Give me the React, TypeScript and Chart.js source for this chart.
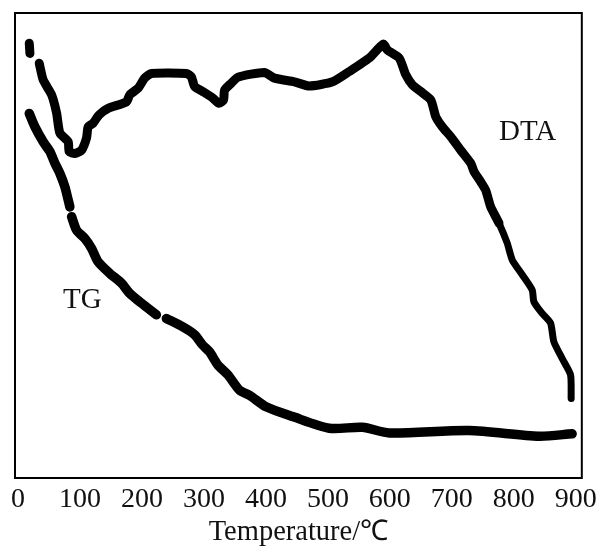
import React, { useEffect, useRef } from "react";
import { Chart, registerables } from "chart.js";

Chart.register(...registerables);

// Temperature (°C) / relative signal (0-100, arbitrary units)
const DTA_X: (number)[] = [18.2, 19.3, 25, 34.3, 40.7, 54.3, 62.3, 67.6, 81.0, 82.6, 91.8, 102.6, 110.6, 113.2, 121.2, 130.9, 145.4, 175.0, 180.3, 193.7, 204.5, 215.3, 271.6, 279.7, 285.0, 298.3, 314.4, 324.1, 331.7, 333.3, 344.1, 354.7, 397.7, 413.8, 446.0, 470.1, 507.6, 534.5, 566.7, 589.3, 596.2, 615.1, 625.8, 636.5, 650.0, 666.1, 674.1, 684.8, 698.3, 714.4, 730.5, 735.8, 746.6, 754.6, 762.7, 776.1, 789.4, 797.5, 813.6, 829.7, 832.4, 845.8, 859.3, 864.6, 878.0, 891.5, 892.5];
const DTA_Y: (number | null)[] = [93.5, 91.3, null, 89.2, 85.6, 82.4, 78.5, 74.2, 72.3, 70.2, 69.8, 70.5, 73.1, 75.5, 76.3, 78.1, 79.5, 80.9, 82.4, 83.8, 86.0, 87.0, 87.0, 86.3, 84.2, 83.1, 81.7, 80.6, 81.3, 83.4, 84.9, 86.2, 87.2, 86.0, 85.2, 84.3, 85.2, 87.4, 90.3, 93.3, 92.0, 90.3, 86.7, 84.5, 83.1, 81.3, 77.7, 75.5, 73.4, 70.5, 67.7, 65.9, 63.7, 61.9, 58.3, 54.8, 50.5, 46.9, 43.7, 40.4, 37.9, 35.4, 33.3, 29.3, 25.7, 22.2, 17.1];

const TG_X: number[] = [18.2, 27.4, 40.7, 51.5, 59.6, 67.6, 75.7, 81.0, 83.7, 85, 86.5, 94.5, 107.9, 118.7, 129.3, 148.1, 167.0, 180.3, 199.2, 223.3, 230, 239.4, 266.1, 285.0, 297.9, 309.1, 322.5, 338.6, 357.4, 373.5, 400.4, 443.3, 502.3, 555.9, 598.9, 727.7, 840.4, 894.1];
const TG_Y: (number | null)[] = [78.4, 75.5, 72.3, 70.2, 67.7, 65.5, 62.6, 59.8, 58.3, null, 56.2, 53.3, 51.5, 49.4, 46.5, 44.0, 41.9, 39.7, 37.6, 35.1, null, 34.3, 32.5, 30.8, 28.6, 27.1, 24.3, 22.2, 18.9, 17.8, 15.3, 13.2, 10.7, 10.9, 9.7, 10.2, 9.0, 9.5];

const X_TICKS: number[] = [0, 100, 200, 300, 400, 500, 600, 700, 800, 900];
const X_TITLE = "Temperature/℃";
const SERIES_LABELS = ["DTA", "TG"];

const FONT = "'Liberation Serif', 'Times New Roman', serif";

export default function App() {
  const ref = useRef<HTMLCanvasElement | null>(null);

  useEffect(() => {
    const canvas = ref.current;
    if (!canvas) return;

    const toPts = (xs: number[], ys: (number | null)[]) =>
      xs.map((x, i) => ({ x, y: ys[i] }));

    const framePlugin = {
      id: "frame",
      afterDraw(chart: any) {
        const { ctx, chartArea } = chart;
        const { left, top, right, bottom } = chartArea;
        ctx.save();
        ctx.strokeStyle = "#000";
        ctx.lineWidth = 2;
        ctx.strokeRect(left, top, right - left, bottom - top);
        const xs = chart.scales.x;
        const ys = chart.scales.y;
        ctx.fillStyle = "#111";
        ctx.font = `29px ${FONT}`;
        ctx.textBaseline = "middle";
        ctx.textAlign = "left";
        ctx.fillText(SERIES_LABELS[0], xs.getPixelForValue(776), ys.getPixelForValue(74.4));
        ctx.fillText(SERIES_LABELS[1], xs.getPixelForValue(72.5), ys.getPixelForValue(38.3));
        ctx.restore();
      },
    };

    const chart = new Chart(canvas, {
      type: "line",
      data: {
        datasets: [
          {
            label: SERIES_LABELS[0],
            data: toPts(DTA_X, DTA_Y),
            borderColor: "#000",
            borderWidth: 9,
            borderCapStyle: "round",
            borderJoinStyle: "round",
            pointRadius: 0,
            tension: 0.2,
            spanGaps: false,
            fill: false,
            segment: {
              borderWidth: (c: any) => (c.p0.parsed.x > 770 ? 7 : 9),
            },
          },
          {
            label: SERIES_LABELS[1],
            data: toPts(TG_X, TG_Y),
            borderColor: "#000",
            borderWidth: 9.5,
            borderCapStyle: "round",
            borderJoinStyle: "round",
            pointRadius: 0,
            tension: 0.25,
            spanGaps: false,
            fill: false,
          },
        ],
      },
      options: {
        animation: false,
        responsive: false,
        layout: { padding: { left: 15, right: 19, top: 13, bottom: 0 } },
        plugins: {
          legend: { display: false },
          tooltip: { enabled: false },
        },
        scales: {
          x: {
            type: "linear",
            min: -4.8,
            max: 909.7,
            grid: { display: false, drawTicks: false },
            border: { display: false },
            afterBuildTicks: (axis: any) => {
              axis.ticks = X_TICKS.map((v) => ({ value: v }));
            },
            afterFit: (axis: any) => {
              axis.height = 73;
            },
            ticks: {
              autoSkip: false,
              maxRotation: 0,
              padding: 5,
              color: "#111",
              font: { family: FONT, size: 28 },
            },
            title: {
              display: true,
              text: X_TITLE,
              color: "#111",
              font: { family: FONT, size: 28.5 },
              padding: { top: 0, bottom: 1 },
            },
          },
          y: {
            type: "linear",
            min: 0,
            max: 100,
            display: false,
          },
        },
      },
      plugins: [framePlugin],
    } as any);

    return () => chart.destroy();
  }, []);

  return (
    <div style={{ position: "fixed", left: 0, top: 0, width: 602, height: 551, background: "#fff" }}>
      <canvas ref={ref} width={602} height={551} />
    </div>
  );
}
